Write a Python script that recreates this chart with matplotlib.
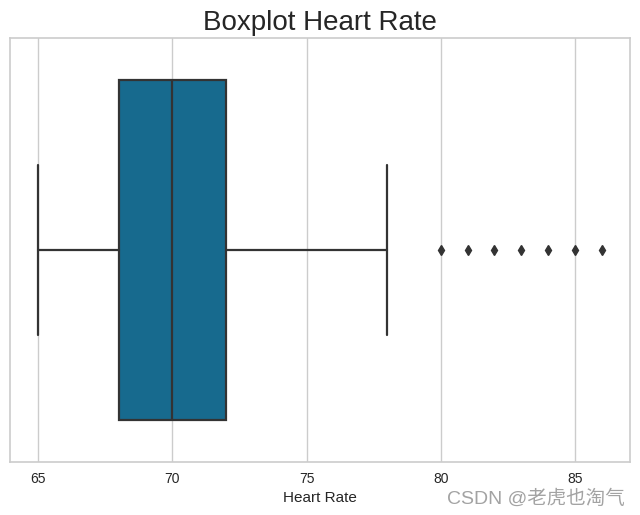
import matplotlib
matplotlib.use("Agg")
import matplotlib.pyplot as plt
import seaborn as sns

# box statistics of the heart rate column
whisker_low = 65
q1 = 68
median = 70
q3 = 72
whisker_high = 78
outliers = [80, 81, 82, 83, 84, 85, 86]

sns.set_style("whitegrid")
plt.rcParams['font.family'] = ['Liberation Sans', 'Noto Sans CJK SC', 'DejaVu Sans']

fig = plt.figure(figsize=(6.4, 5.15), dpi=100)
ax = fig.add_axes([10 / 640, 53 / 515, 620 / 640, 424 / 515])

line_col = '#333333'
stats = [{'whislo': whisker_low, 'q1': q1, 'med': median, 'q3': q3,
          'whishi': whisker_high, 'fliers': outliers}]
ax.bxp(stats, positions=[0], widths=0.8, vert=False, patch_artist=True,
       boxprops=dict(facecolor='#176a8e', edgecolor=line_col, linewidth=1.6),
       medianprops=dict(color=line_col, linewidth=1.6),
       whiskerprops=dict(color=line_col, linewidth=1.6),
       capprops=dict(color=line_col, linewidth=1.6),
       capwidths=0.4,
       flierprops=dict(marker='d', markerfacecolor=line_col, markeredgecolor=line_col,
                       markersize=5))

ax.set_ylim(0.5, -0.5)
ax.set_xlim(63.95, 87.05)
ax.set_yticks([])
ax.set_xticks([65, 70, 75, 80, 85])
ax.tick_params(axis='x', labelsize=10, colors='#262626')
ax.grid(True, axis='x', color='#cccccc', linewidth=1)
ax.grid(False, axis='y')
for s in ax.spines.values():
    s.set_color('#cccccc')
    s.set_linewidth(1.2)
ax.set_xlabel('Heart Rate', fontsize=11, color='#262626')
ax.set_title('Boxplot Heart Rate', fontsize=20, color='#262626', pad=6)

fig.text(625 / 640, 7 / 515, 'CSDN @老虎也淘气', ha='right', va='bottom',
         fontsize=14, color='#a3a3a3',
         family=['Liberation Sans', 'Noto Sans CJK SC', 'DejaVu Sans'])

fig.savefig('out.png', dpi=100)
